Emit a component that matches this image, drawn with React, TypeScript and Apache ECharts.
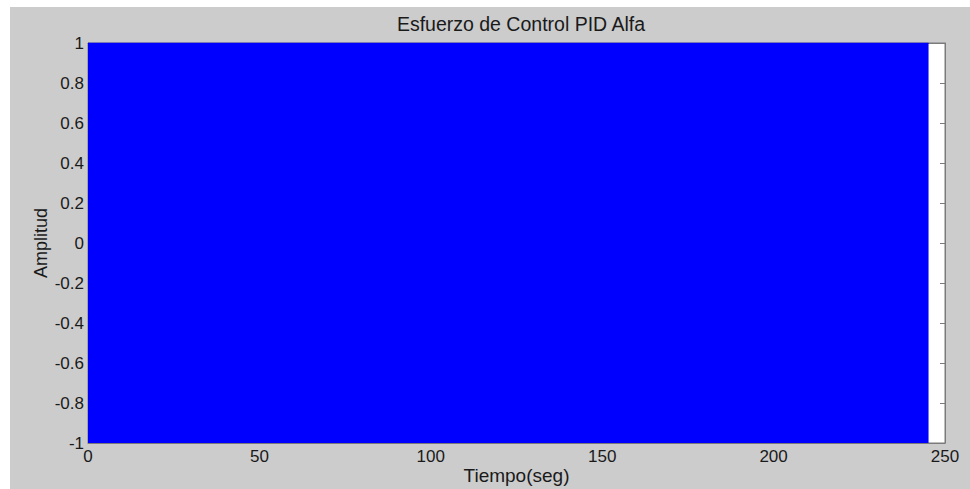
import React, { useEffect, useRef } from "react";
import * as echarts from "echarts";

// Visible envelope of the control effort (chatters between +1 and -1)
const timeSpan = [0, 245.2];
const upperLevel = [1, 1];
const xTicks = [0, 50, 100, 150, 200, 250];
const yTicks = [-1, -0.8, -0.6, -0.4, -0.2, 0, 0.2, 0.4, 0.6, 0.8, 1];

const FONT = "Liberation Sans, Arial, sans-serif";
const AXIS_COLOR = "#7a7a7a";
const TEXT_COLOR = "#1a1a1a";

export default function App() {
  const ref = useRef<HTMLDivElement>(null);
  useEffect(() => {
    if (!ref.current) return;
    const chart = echarts.init(ref.current, null, { renderer: "svg" });
    const xMin = xTicks[0];
    const xMax = xTicks[xTicks.length - 1];
    const yMin = yTicks[0];
    const yMax = yTicks[yTicks.length - 1];
    const xInt = xTicks[1] - xTicks[0];
    const yInt = 0.2;
    const tick = { show: true, inside: true, length: 5, lineStyle: { color: AXIS_COLOR } };
    chart.setOption({
      animation: false,
      backgroundColor: "transparent",
      title: {
        text: "Esfuerzo de Control PID Alfa",
        left: 506,
        top: 2,
        textAlign: "center",
        textStyle: { fontFamily: FONT, fontSize: 19.5, fontWeight: "normal", color: TEXT_COLOR },
      },
      grid: {
        left: 78,
        right: 25,
        top: 36,
        bottom: 46,
        show: true,
        outerBoundsMode: "none",
        containLabel: false,
        backgroundColor: "#ffffff",
        borderColor: AXIS_COLOR,
        borderWidth: 1,
      },
      xAxis: [
        {
          type: "value",
          min: xMin,
          max: xMax,
          interval: xInt,
          name: "Tiempo(seg)",
          nameLocation: "middle",
          nameGap: 23,
          nameMoveOverlap: false,
          nameTextStyle: { fontFamily: FONT, fontSize: 19, color: TEXT_COLOR },
          axisLine: { show: true, onZero: false, lineStyle: { color: AXIS_COLOR } },
          axisTick: tick,
          axisLabel: { fontFamily: FONT, fontSize: 17, color: TEXT_COLOR, margin: 5 },
          splitLine: { show: false },
        },
        {
          type: "value",
          position: "top",
          min: xMin,
          max: xMax,
          interval: xInt,
          axisLine: { show: true, onZero: false, lineStyle: { color: AXIS_COLOR } },
          axisTick: tick,
          axisLabel: { show: false },
          splitLine: { show: false },
        },
      ],
      yAxis: [
        {
          type: "value",
          min: yMin,
          max: yMax,
          interval: yInt,
          name: "Amplitud",
          nameLocation: "middle",
          nameGap: 38,
          nameMoveOverlap: false,
          nameRotate: 90,
          nameTextStyle: { fontFamily: FONT, fontSize: 18, color: TEXT_COLOR },
          axisLine: { show: true, onZero: false, lineStyle: { color: AXIS_COLOR } },
          axisTick: tick,
          axisLabel: {
            fontFamily: FONT,
            fontSize: 17,
            color: TEXT_COLOR,
            margin: 4,
            formatter: (v: number) => String(Math.round(v * 10) / 10),
          },
          splitLine: { show: false },
        },
        {
          type: "value",
          position: "right",
          min: yMin,
          max: yMax,
          interval: yInt,
          axisLine: { show: true, onZero: false, lineStyle: { color: AXIS_COLOR } },
          axisTick: tick,
          axisLabel: { show: false },
          splitLine: { show: false },
        },
      ],
      series: [
        {
          type: "line",
          xAxisIndex: 0,
          yAxisIndex: 0,
          data: timeSpan.map((t, i) => [t, upperLevel[i]]),
          symbol: "none",
          lineStyle: { color: "#0000ff", width: 1 },
          areaStyle: { color: "#0000ff", opacity: 1, origin: "start" },
          z: 1,
        },
      ],
    });
    return () => chart.dispose();
  }, []);
  return (
    <div style={{ position: "fixed", left: 0, top: 0, width: 970, height: 489, background: "#ffffff" }}>
      <div
        ref={ref}
        style={{ position: "absolute", left: 10, top: 7, width: 960, height: 482, background: "#cccccc" }}
      />
    </div>
  );
}
